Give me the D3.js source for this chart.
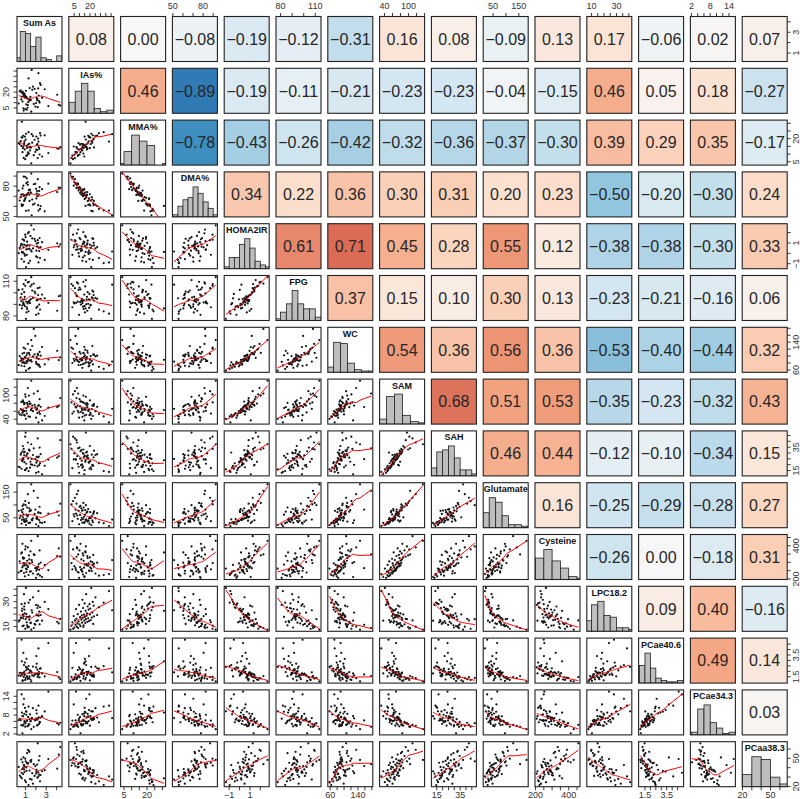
<!DOCTYPE html>
<html lang="en">
<head>
<meta charset="UTF-8">
<title>Arsenic metabolism and metabolic markers - pairs plot</title>
<script src="https://d3js.org/d3.v7.min.js"></script>
<style>
  body { margin: 0; background: #fff; }
  svg { font-family: 'Liberation Sans', Arial, sans-serif; }
</style>
</head>
<body>
<div id="chart"></div>
<script>
// panel labels, in matrix order
const names = ["Sum As", "IAs%", "MMA%", "DMA%", "HOMA2IR", "FPG", "WC", "SAM", "SAH",
               "Glutamate", "Cysteine", "LPC18.2", "PCae40.6", "PCae34.3", "PCaa38.3"];

// one value per subject (60 subjects)
const sumAs = [2.15,0.78,1.3,4.2,0.63,2.32,1.05,0.9,2.05,1.44,0.35,2.4,1.2,0.95,1.6,2.25,0.7,1.13,2.85,0.86,
               1.37,2.02,0.55,1.08,2.18,0.8,1.52,4.35,0.66,2.12,1.26,0.93,3.2,1.02,2.28,0.6,1.72,1.4,2.46,0.75,
               1.16,2.08,0.98,1.88,0.45,1.33,2.22,0.72,1.1,2.36,0.88,1.56,4.05,0.83,1.48,2.6,1.23,1.65,1.8,1.95];
const ias = [13.4,18.3,33,8,19.5,11.4,21.2,18.7,19.1,12.8,9.2,28.5,5.2,14.9,41,38,20.3,3.3,22.7,16.4,
             11.8,9.7,21.7,8.4,5.7,4.6,12.5,7.2,15.8,12.2,10.6,17.1,6.8,16.1,16.8,13.1,25.2,23.8,26.8,19.9,
             14,14.3,4,23.1,20.7,13.7,23.5,11,15.2,10.1,17.8,1.5,17.5,2.5,15.5,14.6,7.6,22.2,8.8,6.3];
const mma = [16.5,21.9,24.2,13.5,20.9,13.3,23.2,18.3,21.3,12.3,17.1,23.6,9.6,21.4,22.9,18.1,20.7,9.0,22.2,16.2,
             16.7,12.9,18.4,8.8,7.4,14.9,14.2,14.5,31,12.7,16.1,13.0,10.7,19.4,14.5,15.3,21.7,14.3,22.0,13.8,
             14.0,15.9,6.7,19.3,16.5,10.3,20.1,11.2,15.4,9.7,16.9,3.9,13.6,7.5,14.7,8.4,11.1,17.4,9.3,11.4];
const dma = [70.1,61.5,56.0,78.5,62.0,75.3,55.6,66.0,67.9,76.5,75.6,57.5,84.0,67.2,51.2,55.8,60.8,87.7,55.1,70.3,
             71.5,77.4,69.1,82.8,86.9,80.5,73.3,78.3,60.4,75.1,73.3,71.2,82.5,68.5,71.7,71.6,61.8,65.4,60.3,72.0,
             72.0,72.6,89.3,62.7,65.8,76.0,61.2,77.8,70.8,79.0,65.3,92.5,74.2,89.5,73.9,77.0,81.3,66.8,81.9,82.3];
const homa = [-0.38,0.10,-0.95,0.64,-0.55,0.22,-1.32,-0.06,0.26,-0.72,0.02,-0.46,0.79,-0.22,0.18,-0.88,0.06,-0.14,-0.63,-0.80,
              0.45,-0.30,0.73,0.38,1.27,0.58,0.30,0.88,0.14,0.67,0.42,0.82,0.34,1.56,0.55,0.91,0.48,0.76,0.61,0.85,
              1.13,0.94,1.80,1.40,0.52,2.05,1.02,1.36,0.70,1.48,1.22,2.70,0.97,1.31,1.68,1.08,1.93,1.44,2.30,1.18];
const fpg = [88,90.5,84,97,99,89.8,77.5,94.4,87,91,102.5,85.5,90.8,88.5,107,82,89,87.5,95.2,90,
             93,81,96,92.3,104,91.7,94.6,97.5,86.5,93.7,92,96.5,91.3,111,94.2,92.7,95.6,93.3,94.8,94,
             86,93.5,106,101,89.5,109.5,98,103,83,104.5,100.5,113.5,84.5,107.5,105.5,98.5,109,102,108,99.5];
const wc = [77,82,63,88,72,75,58,70.5,78,66,74,69,86,79,84,73,81,80,76,82,
            87,83,86,85,106,92,88,96,89,93,91,97,90,95,92,94,99,104,101,89.5,
            108,98,121,105,100,109,103,107,102,112,109.5,146,115,124,118,126,135,129,178,158];
const sam = [55,62,47,73,50,58,41,60.5,64,46,57,53,77,49,66,32,56,54,48,51,
             84,44,65.5,61,110,59,62.5,93,63,67,72,80,69,96,75,83,60,78,71,87,
             81,64.5,102,76,52,99,73.5,84.5,68,90,77.5,136,70,82,79,37,118,74,104,70.5];
const sah = [18.6,25.6,14.5,27.3,16.5,19.6,16,22.1,21.7,17.4,18.2,21.2,29.6,15.3,24.9,13.8,23,17,19,30.4,
             32.5,13,28.6,20.8,42.5,24.5,20.3,41,23.8,23.4,25.2,31,24.2,47.5,27,29.9,28.3,32,29,36,
             29.3,26.7,44,19.3,17.8,33,26.3,31.5,27.6,34.6,28,37.5,26,33.5,22.5,11.8,39,19.9,34,24.7];
const glu = [45,84,29,59,27,41,22,38,47,31,77,32,55,34,43,18,72,37,33,44,
             87,25,57,46,128,63,78,105,42,50,61,39,66,99,70,79,48,75,68,52,
             90,54,115,65,49,108,71,96,62,93,35.5,180,74,102,80,30,142,40,155,82];
const cys = [227,280,224,384,249.5,255,263,294,251,244,239,220,277,216,314,230,270,258,285,236,
             318,207,248,242,458,322,246,334,360,260,272,282,253,396,290,354,233,292,298.5,330,
             310,268,378,345,306,342,275,412,287,372,326,430,338,296,366,212,390,302,348,265];
const lpc = [24.9,16.6,29.2,12.5,28,22,41,23.6,14.4,31.5,14.1,25.5,9.2,28.6,23.1,38.5,24.5,13.4,29.8,36,
             15.5,27.4,17.2,19.9,14.9,18.4,13.1,16.2,22.6,19,17.5,20.5,24,15.9,18.7,16.9,33.5,18.1,19.2,19.7,
             11,19.5,8.2,12.1,15.2,9.6,26.8,10.3,17.8,11.8,26.1,7.5,13.8,10.7,12.8,14.7,9.9,21.2,8.8,11.4];
const pc406 = [2.16,1.85,2.48,1.43,4.9,1.77,2.4,1.98,3.4,2.08,1.61,2.24,1.31,2.8,1.91,4.1,1.69,2.32,1.53,2.58,
               1.89,2.36,1.59,2.12,1.47,3.7,2.03,1.28,2.92,1.75,2.2,1.67,4.6,1.4,1.95,1.83,2.44,1.51,2.28,1.17,
               1.55,2.7,1.21,1.73,1.87,1.34,1.65,1.12,3.15,1.45,1.79,1.07,1.93,1.49,1.25,1.81,1.37,1.63,1.57,1.71];
const pc343 = [6.5,7.6,10.7,4.95,14.6,5.2,9.2,6.05,9.6,8.25,6.35,5.7,4.4,10.3,7.05,11.0,7.7,6.25,9.15,13.2,
               4.9,6.85,6.4,8.1,4.85,11.4,6.1,5.55,8.8,4.65,7.4,5.75,15.5,5.4,7.3,4.8,10.2,6.7,7.2,4.6,
               6.15,8.5,4.3,6.5,6.8,5.1,7.0,2.2,9.05,5.8,8.4,3.5,5.35,5.05,6.0,7.65,4.55,6.95,4.25,6.3];
const pc383 = [29.4,33.2,21.5,54,34.6,32.7,24.5,35.4,35.8,28,40.8,25.5,44.3,26.5,27.3,30.7,38.6,45.3,37.4,42.8,
               57,33.7,30.2,40.3,66,51,46.3,62,28.7,43.3,44.8,41.3,49.3,46.8,47.8,48.8,23,37,32.2,39.5,
               55.5,37.8,49.7,31.2,31.7,58,35,45.8,36.6,52.5,38.2,48.3,39,42.3,47.3,36.2,59.2,34.2,43.8,41.8];

// correlations printed in the upper panels, one row per variable (columns to its right)
const corRows = [
  [0.08, 0.00, -0.08, -0.19, -0.12, -0.31, 0.16, 0.08, -0.09, 0.13, 0.17, -0.06, 0.02, 0.07],
  [0.46, -0.89, -0.19, -0.11, -0.21, -0.23, -0.23, -0.04, -0.15, 0.46, 0.05, 0.18, -0.27],
  [-0.78, -0.43, -0.26, -0.42, -0.32, -0.36, -0.37, -0.30, 0.39, 0.29, 0.35, -0.17],
  [0.34, 0.22, 0.36, 0.30, 0.31, 0.20, 0.23, -0.50, -0.20, -0.30, 0.24],
  [0.61, 0.71, 0.45, 0.28, 0.55, 0.12, -0.38, -0.38, -0.30, 0.33],
  [0.37, 0.15, 0.10, 0.30, 0.13, -0.23, -0.21, -0.16, 0.06],
  [0.54, 0.36, 0.56, 0.36, -0.53, -0.40, -0.44, 0.32],
  [0.68, 0.51, 0.53, -0.35, -0.23, -0.32, 0.43],
  [0.46, 0.44, -0.12, -0.10, -0.34, 0.15],
  [0.16, -0.25, -0.29, -0.28, 0.27],
  [-0.26, 0.00, -0.18, 0.31],
  [0.09, 0.40, -0.16],
  [0.49, 0.14],
  [0.03]
];

// axis ticks and which of them carry a label
const tickVals = [[1,2,3,4], [5,10,15,20,25,30,35,40], [5,10,15,20,25,30], [50,60,70,80,90], [-1,0,1,2],
  [80,90,100,110], [60,80,100,120,140,160,180], [40,60,80,100,120,140], [15,20,25,30,35,40,45],
  [50,100,150], [200,250,300,350,400,450], [10,15,20,25,30,35,40], [1.5,2,2.5,3,3.5,4,4.5],
  [2,4,6,8,10,12,14], [20,30,40,50,60]];
const tickLabs = [[1,3], [5,20], [5,20], [50,80], [-1,1], [80,110], [60,140], [40,100], [15,35],
  [50,150], [200,400], [10,30], [1.5,3.5], [2,8,14], [20,50]];

// histogram break points
const breaks = [
  d3.range(0, 4.51, 0.5), d3.range(0, 43, 6), d3.range(0, 36, 5), d3.range(50, 96, 5), d3.range(-1.5, 3.01, 0.5),
  d3.range(75, 116, 5), d3.range(50, 191, 20), d3.range(25, 146, 20), d3.range(10, 51, 5), d3.range(10, 186, 25),
  d3.range(200, 501, 50), d3.range(5, 46, 5), d3.range(1, 5.01, 0.5), d3.range(2, 17, 2), d3.range(20, 71, 10)];

const vars = [sumAs, ias, mma, dma, homa, fpg, wc, sam, sah, glu, cys, lpc, pc406, pc343, pc383];
const nv = vars.length;

const S = 45, P = 51.8, X0 = 17, Y0 = 16.5;

// R style ranges: data extent plus 4% each side
const xs = vars.map(v => {
  const [lo, hi] = d3.extent(v), pad = (hi - lo) * 0.04;
  return d3.scaleLinear().domain([lo - pad, hi + pad]).range([0, S]);
});
const ys = xs.map(s => s.copy().range([S, 0]));

const corColor = d3.scaleLinear()
  .domain([-1, -0.75, -0.5, -0.25, 0, 0.25, 0.5, 0.75, 1])
  .range(["#2166ac", "#4393c3", "#92c5de", "#d1e5f0", "#f7f7f7", "#fddbc7", "#f4a582", "#d6604d", "#b2182b"]);

const fmt = v => (v < 0 ? "\u2212" : "") + Math.abs(v).toFixed(2);
const tfmt = v => (v < 0 ? "\u2212" : "") + Math.abs(v);

// lowess smoother (f = 2/3, 3 robustness iterations) as in panel.smooth
function lowess(x, y, f = 2 / 3, iter = 3) {
  const n = x.length;
  const idx = d3.range(n).sort((a, b) => x[a] - x[b]);
  const X = idx.map(i => x[i]), Y = idx.map(i => y[i]);
  const ns = Math.max(2, Math.min(n, Math.floor(f * n + 1e-7)));
  const range = X[n - 1] - X[0];
  let rw = new Array(n).fill(1);
  const fit = new Array(n).fill(0);
  for (let it = 0; it <= iter; it++) {
    let nl = 0, nr = ns - 1;
    for (let i = 0; i < n; i++) {
      const xi = X[i];
      while (nr < n - 1 && xi - X[nl] > X[nr + 1] - xi) { nl++; nr++; }
      const h = Math.max(xi - X[nl], X[nr] - xi);
      const w = new Array(n).fill(0);
      let sw = 0;
      for (let j = 0; j < n; j++) {
        const d = Math.abs(X[j] - xi);
        if (d <= 0.999 * h) {
          w[j] = (d <= 0.001 * h ? 1 : Math.pow(1 - Math.pow(d / h, 3), 3)) * rw[j];
          sw += w[j];
        }
      }
      if (sw <= 0) { fit[i] = Y[i]; continue; }
      let a = 0, c = 0;
      for (let j = 0; j < n; j++) { w[j] /= sw; a += w[j] * X[j]; }
      for (let j = 0; j < n; j++) c += w[j] * (X[j] - a) * (X[j] - a);
      if (Math.sqrt(c) > 0.001 * range) {
        const b = (xi - a) / c;
        for (let j = 0; j < n; j++) w[j] *= b * (X[j] - a) + 1;
      }
      let s = 0;
      for (let j = 0; j < n; j++) s += w[j] * Y[j];
      fit[i] = s;
    }
    if (it === iter) break;
    const res = Y.map((v, i) => Math.abs(v - fit[i]));
    const cmad = 6 * d3.median(res);
    if (cmad < 1e-7) break;
    rw = res.map(r => r <= 0.001 * cmad ? 1 : r > 0.999 * cmad ? 0 : Math.pow(1 - (r / cmad) * (r / cmad), 2));
  }
  return X.map((v, i) => [v, fit[i]]);
}

const svg = d3.select("#chart").append("svg")
    .attr("width", 800)
    .attr("height", 799);

svg.append("defs").append("clipPath").attr("id", "panelClip")
  .append("rect").attr("width", S).attr("height", S);

for (let r = 0; r < nv; r++) {
  for (let c = 0; c < nv; c++) {
    const g = svg.append("g")
        .attr("transform", `translate(${X0 + c * P},${Y0 + r * P})`);

    if (r < c) {
      // upper: coloured correlation box
      const v = corRows[r][c - r - 1];
      g.append("rect").attr("width", S).attr("height", S).attr("fill", corColor(v));
      g.append("text")
          .attr("x", S / 2).attr("y", S / 2).attr("dy", "0.36em")
          .attr("text-anchor", "middle")
          .attr("font-size", 16)
          .attr("fill", "#262626")
          .text(fmt(v));
    } else if (r === c) {
      // diagonal: histogram + name
      const inner = g.append("g").attr("clip-path", "url(#panelClip)");
      const br = breaks[r];
      const bins = d3.bin().domain([br[0], br[br.length - 1]]).thresholds(br)(vars[r]);
      const hy = d3.scaleLinear().domain([0, d3.max(bins, b => b.length) * 1.5]).range([S, 0]);
      inner.selectAll("rect.bar")
        .data(bins)
        .enter().append("rect")
          .attr("class", "bar")
          .attr("x", b => xs[r](b.x0))
          .attr("width", b => xs[r](b.x1) - xs[r](b.x0))
          .attr("y", b => hy(b.length))
          .attr("height", b => S - hy(b.length))
          .attr("fill", "#bebebe")
          .attr("stroke", "#222")
          .attr("stroke-width", 0.8);
      g.append("text")
          .attr("x", S / 2).attr("y", 9.5)
          .attr("text-anchor", "middle")
          .attr("font-size", 9)
          .attr("font-weight", "bold")
          .attr("fill", "#111")
          .text(names[r]);
    } else {
      // lower: scatter + lowess
      const xv = vars[c], yv = vars[r];
      const inner = g.append("g").attr("clip-path", "url(#panelClip)");
      inner.selectAll("circle")
        .data(d3.range(xv.length))
        .enter().append("circle")
          .attr("cx", i => xs[c](xv[i]))
          .attr("cy", i => ys[r](yv[i]))
          .attr("r", 1.1)
          .attr("fill", "#111");
      const sm = lowess(xv, yv);
      inner.append("path")
          .attr("d", d3.line().x(d => xs[c](d[0])).y(d => ys[r](d[1]))(sm))
          .attr("fill", "none")
          .attr("stroke", "#ff0000")
          .attr("stroke-width", 1);
    }

    g.append("rect")
        .attr("width", S).attr("height", S)
        .attr("fill", "none")
        .attr("stroke", "#222")
        .attr("stroke-width", 1.1);
  }
}

// axes on the outer margins, alternating like pairs()
const axisG = svg.append("g").attr("fill", "#333").attr("font-size", 9);

function drawAxis(k, side) {
  const vals = tickVals[k].filter(t => t >= xs[k].domain()[0] && t <= xs[k].domain()[1]);
  vals.forEach(t => {
    const lab = tickLabs[k].includes(t);
    if (side === "top" || side === "bottom") {
      const x = X0 + k * P + xs[k](t);
      const y0 = side === "top" ? Y0 : Y0 + (nv - 1) * P + S;
      const dir = side === "top" ? -1 : 1;
      axisG.append("line").attr("x1", x).attr("x2", x).attr("y1", y0).attr("y2", y0 + dir * 3.5)
          .attr("stroke", "#222").attr("stroke-width", 0.9);
      if (lab) axisG.append("text").attr("x", x).attr("y", side === "top" ? 9 : 797.5)
          .attr("text-anchor", "middle").text(tfmt(t));
    } else {
      const y = Y0 + k * P + ys[k](t);
      const x0 = side === "left" ? X0 : X0 + (nv - 1) * P + S;
      const dir = side === "left" ? -1 : 1;
      axisG.append("line").attr("x1", x0).attr("x2", x0 + dir * 3.5).attr("y1", y).attr("y2", y)
          .attr("stroke", "#222").attr("stroke-width", 0.9);
      if (lab) axisG.append("text")
          .attr("transform", `translate(${side === "left" ? 8.5 : 798.5},${y}) rotate(-90)`)
          .attr("text-anchor", "middle").text(tfmt(t));
    }
  });
}

for (let k = 0; k < nv; k++) {
  if (k % 2 === 1) { drawAxis(k, "top"); drawAxis(k, "left"); }
  else { drawAxis(k, "bottom"); drawAxis(k, "right"); }
}
</script>
</body>
</html>
